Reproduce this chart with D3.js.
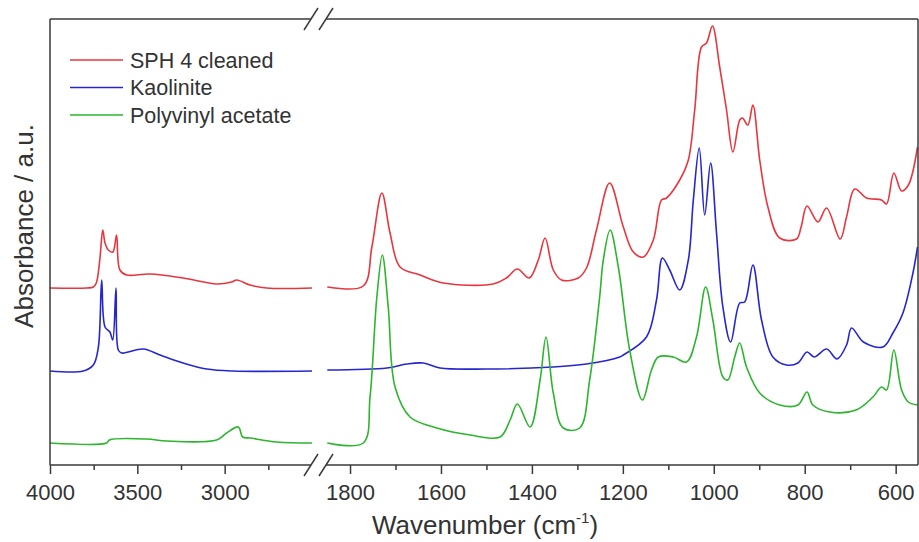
<!DOCTYPE html>
<html><head><meta charset="utf-8">
<script src="https://cdn.jsdelivr.net/npm/d3@7"></script>
<style>body{margin:0;background:#fff}</style></head>
<body>
<svg id="chart" width="919" height="542"></svg>
<script>
// ---- data (wavenumber cm-1, absorbance a.u., offset-stacked) ----
const seriesNames = ["SPH 4 cleaned", "Kaolinite", "Polyvinyl acetate"];
const seriesColors = ["#e8363f", "#2626d0", "#2db52d"];

const leftMajorTicks = [4000, 3500, 3000];
const leftMinorTicks = [3750, 3250, 2750];
const rightMajorTicks = [1800, 1600, 1400, 1200, 1000, 800, 600];
const rightMinorTicks = [1700, 1500, 1300, 1100, 900, 700];

const sphLeft = [[4000,177],[3790,177],[3752,178],[3735,182],[3715,205],[3698,235],[3685,222],[3666,215],[3640,213],[3619,230],[3600,195],[3561,190],[3428,191],[3238,187],[3046,181],[2960,183],[2931,185],[2855,180],[2760,177],[2500,177]];
const sphRight = [[1850,178],[1771,179],[1752,218],[1730,272],[1712,232],[1690,198],[1646,190],[1595,182],[1485,181],[1456,187],[1432,196],[1406,187],[1386,205],[1371,227],[1353,195],[1335,185],[1298,187],[1280,197],[1258,235],[1229,282],[1199,238],[1177,213],[1155,208],[1133,225],[1115,265],[1104,267],[1075,285],[1056,305],[1042,355],[1027,418],[1016,422],[1003,439],[987,398],[972,355],[958,313],[943,345],[937,347],[925,340],[914,360],[899,305],[881,258],[855,227],[818,226],[808,238],[795,259],[771,243],[752,257],[722,226],[708,248],[690,276],[664,267],[631,265],[620,261],[604,292],[587,274],[572,280],[552,318]];

const kaoLeft = [[4000,94],[3810,94],[3752,100],[3723,118],[3704,185],[3685,138],[3657,133],[3641,125],[3622,177],[3609,115],[3590,112],[3466,116],[3370,110],[3238,102],[3103,96],[2952,94],[2500,94]];
const kaoRight = [[1850,95],[1719,97],[1675,101],[1639,102],[1602,97],[1500,96],[1353,98],[1280,101],[1207,108],[1199,110],[1148,128],[1126,165],[1113,207],[1097,195],[1075,175],[1056,205],[1045,265],[1032,317],[1020,250],[1007,302],[994,232],[980,158],[963,123],[943,162],[932,163],[914,200],[895,145],[870,108],[840,100],[815,102],[795,113],[779,108],[752,116],[729,106],[708,120],[697,137],[671,123],[628,118],[606,132],[584,152],[562,192],[552,218]];

const pvaLeft = [[4000,22],[3676,22],[3660,25],[3447,26],[3332,24],[3046,25],[2989,32],[2922,38],[2897,28],[2855,27],[2702,23],[2500,22]];
const pvaRight = [[1850,22],[1771,22],[1756,68],[1741,168],[1729,210],[1716,158],[1701,78],[1668,48],[1609,37],[1536,30],[1470,28],[1448,45],[1432,61],[1404,38],[1382,85],[1369,128],[1353,72],[1331,37],[1295,37],[1273,85],[1251,168],[1243,205],[1228,235],[1210,198],[1185,115],[1157,65],[1137,95],[1122,108],[1089,108],[1060,103],[1038,128],[1018,178],[1002,145],[980,88],[969,85],[954,108],[943,122],[928,98],[899,72],[855,60],[815,60],[795,73],[782,60],[745,53],[687,55],[650,68],[631,78],[620,75],[604,115],[587,75],[572,63],[552,60]];

const leftSeries = [sphLeft, kaoLeft, pvaLeft];
const rightSeries = [sphRight, kaoRight, pvaRight];

// ---- layout ----
const svg = d3.select("#chart");
const font = "'Liberation Sans', Arial, sans-serif";
const yTop = 19, yBot = 465, xLeft = 50, xRight = 918;
const xL = d3.scaleLinear().domain([4000, 2500]).range([50, 312]);
const xR = d3.scaleLinear().domain([1850, 550]).range([327.3, 918.4]);
const y = d3.scaleLinear().domain([0, 446]).range([yBot, yTop]);

const defs = svg.append("defs");
defs.append("clipPath").attr("id","clipL").append("rect").attr("x",50).attr("y",yTop).attr("width",262).attr("height",yBot-yTop);
defs.append("clipPath").attr("id","clipR").append("rect").attr("x",327).attr("y",yTop).attr("width",xRight-327).attr("height",yBot-yTop);

function drawPanel(series, xs, clip) {
  const line = d3.line().x(d => xs(d[0])).y(d => y(d[1])).curve(d3.curveCatmullRom.alpha(0.5));
  const g = svg.append("g").attr("clip-path", `url(#${clip})`);
  series.forEach((s, i) => {
    g.append("path").attr("d", line(s)).attr("fill","none")
      .attr("stroke", seriesColors[i]).attr("stroke-width", 1.6).attr("stroke-linejoin","round");
  });
}
drawPanel(leftSeries, xL, "clipL");
drawPanel(rightSeries, xR, "clipR");

// ---- frame ----
const frameColor = "#3a3a3a";
const fw = 1.5;
const bx1 = 311, bx2 = 326; // break slash centres
const fr = svg.append("g").attr("stroke", frameColor).attr("stroke-width", fw).attr("fill","none");
fr.append("line").attr("x1",xLeft).attr("x2",xLeft).attr("y1",yTop).attr("y2",yBot);
fr.append("line").attr("x1",xRight).attr("x2",xRight).attr("y1",yTop).attr("y2",yBot);
[yTop, yBot].forEach(yy => {
  fr.append("line").attr("x1",xLeft).attr("x2",bx1).attr("y1",yy).attr("y2",yy);
  fr.append("line").attr("x1",bx2).attr("x2",xRight).attr("y1",yy).attr("y2",yy);
  [bx1, bx2].forEach(bx => {
    fr.append("line").attr("x1",bx-7).attr("y1",yy+11).attr("x2",bx+7).attr("y2",yy-11);
  });
});

// ---- axes ----
function addAxis(xs, major, minor) {
  const gMaj = svg.append("g").attr("transform",`translate(0,${yBot})`)
    .call(d3.axisBottom(xs).tickValues(major).tickFormat(d3.format("d")).tickSize(9).tickSizeOuter(0).tickPadding(10));
  gMaj.select(".domain").remove();
  gMaj.selectAll(".tick line").attr("stroke", frameColor).attr("stroke-width", fw);
  gMaj.selectAll(".tick text").attr("font-family", font).attr("font-size", 22).attr("fill","#333");
  const gMin = svg.append("g").attr("transform",`translate(0,${yBot})`)
    .call(d3.axisBottom(xs).tickValues(minor).tickSize(5).tickSizeOuter(0).tickFormat(""));
  gMin.select(".domain").remove();
  gMin.selectAll(".tick line").attr("stroke", frameColor).attr("stroke-width", fw);
}
addAxis(xL, leftMajorTicks, leftMinorTicks);
addAxis(xR, rightMajorTicks, rightMinorTicks);

// ---- titles ----
const xt = svg.append("text").attr("x", 485).attr("y", 534).attr("text-anchor","middle")
  .attr("font-family", font).attr("font-size", 26).attr("fill","#333");
xt.append("tspan").text("Wavenumber (cm");
xt.append("tspan").attr("font-size", 15).attr("dy", -11).text("-1");
xt.append("tspan").attr("dy", 11).text(")");

svg.append("text").attr("transform","translate(33,226) rotate(-90)").attr("text-anchor","middle")
  .attr("font-family", font).attr("font-size", 26).attr("fill","#333").text("Absorbance / a.u.");

// ---- legend ----
const lg = svg.append("g");
seriesNames.forEach((n, i) => {
  const yy = 60 + i * 27.5;
  lg.append("line").attr("x1",70).attr("x2",123).attr("y1",yy).attr("y2",yy)
    .attr("stroke", seriesColors[i]).attr("stroke-width", 1.6);
  lg.append("text").attr("x",130).attr("y",yy+7.5).attr("font-family", font).attr("font-size", 21.5)
    .attr("fill","#333").text(n);
});
</script>
</body></html>
